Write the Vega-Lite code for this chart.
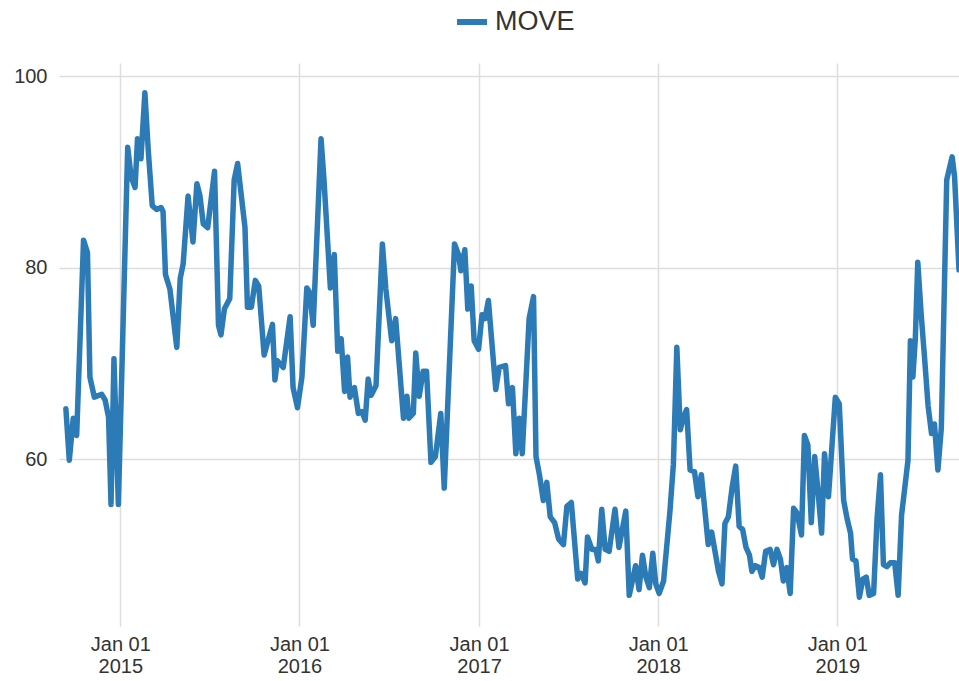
{
  "$schema": "https://vega.github.io/schema/vega-lite/v6.json",
  "autosize": {"type": "none"},
  "padding": {"left": 59, "top": 63, "right": 0, "bottom": 55},
  "width": 900,
  "height": 563,
  "background": "white",
  "config": {
    "view": {"stroke": null},
    "font": "Liberation Sans",
    "axis": {"labelFont": "Liberation Sans", "labelColor": "#333333", "labelFontSize": 20, "gridColor": "#dddddd", "gridWidth": 1.5, "domain": false, "ticks": false, "tickSize": 0}
  },
  "data": {"values": [
    {"date": "2014-09-12", "value": 65.3},
    {"date": "2014-09-19", "value": 59.9},
    {"date": "2014-09-27", "value": 64.3},
    {"date": "2014-10-04", "value": 62.5},
    {"date": "2014-10-18", "value": 82.9},
    {"date": "2014-10-26", "value": 81.6},
    {"date": "2014-10-31", "value": 68.6},
    {"date": "2014-11-09", "value": 66.5},
    {"date": "2014-11-24", "value": 66.8},
    {"date": "2014-12-01", "value": 66.2},
    {"date": "2014-12-08", "value": 64.4},
    {"date": "2014-12-13", "value": 55.3},
    {"date": "2014-12-19", "value": 70.5},
    {"date": "2014-12-28", "value": 55.3},
    {"date": "2015-01-16", "value": 92.6},
    {"date": "2015-01-23", "value": 89.5},
    {"date": "2015-01-31", "value": 88.4},
    {"date": "2015-02-05", "value": 93.5},
    {"date": "2015-02-12", "value": 91.4},
    {"date": "2015-02-20", "value": 98.3},
    {"date": "2015-02-27", "value": 92.2},
    {"date": "2015-03-07", "value": 86.5},
    {"date": "2015-03-16", "value": 86.1},
    {"date": "2015-03-25", "value": 86.3},
    {"date": "2015-03-29", "value": 85.9},
    {"date": "2015-04-03", "value": 79.3},
    {"date": "2015-04-12", "value": 77.8},
    {"date": "2015-04-26", "value": 71.7},
    {"date": "2015-05-03", "value": 78.9},
    {"date": "2015-05-09", "value": 80.4},
    {"date": "2015-05-19", "value": 87.5},
    {"date": "2015-05-29", "value": 82.7},
    {"date": "2015-06-06", "value": 88.8},
    {"date": "2015-06-12", "value": 87.6},
    {"date": "2015-06-19", "value": 84.6},
    {"date": "2015-06-28", "value": 84.2},
    {"date": "2015-07-12", "value": 90.1},
    {"date": "2015-07-20", "value": 74.0},
    {"date": "2015-07-25", "value": 73.0},
    {"date": "2015-08-01", "value": 75.7},
    {"date": "2015-08-12", "value": 76.8},
    {"date": "2015-08-21", "value": 89.2},
    {"date": "2015-08-28", "value": 90.9},
    {"date": "2015-09-12", "value": 84.2},
    {"date": "2015-09-17", "value": 75.9},
    {"date": "2015-09-25", "value": 75.9},
    {"date": "2015-10-03", "value": 78.7},
    {"date": "2015-10-10", "value": 78.1},
    {"date": "2015-10-21", "value": 70.9},
    {"date": "2015-11-07", "value": 74.1},
    {"date": "2015-11-12", "value": 68.3},
    {"date": "2015-11-17", "value": 70.3},
    {"date": "2015-11-29", "value": 69.6},
    {"date": "2015-12-13", "value": 74.9},
    {"date": "2015-12-19", "value": 67.5},
    {"date": "2015-12-28", "value": 65.4},
    {"date": "2016-01-06", "value": 68.6},
    {"date": "2016-01-16", "value": 77.9},
    {"date": "2016-01-22", "value": 77.4},
    {"date": "2016-01-29", "value": 74.0},
    {"date": "2016-02-14", "value": 93.5},
    {"date": "2016-02-20", "value": 89.2},
    {"date": "2016-03-04", "value": 77.9},
    {"date": "2016-03-12", "value": 81.4},
    {"date": "2016-03-19", "value": 71.3},
    {"date": "2016-03-26", "value": 72.6},
    {"date": "2016-04-02", "value": 67.1},
    {"date": "2016-04-08", "value": 70.7},
    {"date": "2016-04-13", "value": 66.5},
    {"date": "2016-04-22", "value": 67.5},
    {"date": "2016-04-30", "value": 64.8},
    {"date": "2016-05-07", "value": 65.0},
    {"date": "2016-05-14", "value": 64.1},
    {"date": "2016-05-20", "value": 68.4},
    {"date": "2016-05-26", "value": 66.7},
    {"date": "2016-06-05", "value": 67.7},
    {"date": "2016-06-18", "value": 82.5},
    {"date": "2016-06-25", "value": 77.8},
    {"date": "2016-07-07", "value": 72.4},
    {"date": "2016-07-15", "value": 74.7},
    {"date": "2016-07-31", "value": 64.3},
    {"date": "2016-08-07", "value": 66.6},
    {"date": "2016-08-11", "value": 64.3},
    {"date": "2016-08-20", "value": 64.8},
    {"date": "2016-08-25", "value": 71.1},
    {"date": "2016-09-01", "value": 66.6},
    {"date": "2016-09-09", "value": 69.2},
    {"date": "2016-09-16", "value": 69.2},
    {"date": "2016-09-25", "value": 59.7},
    {"date": "2016-10-04", "value": 60.3},
    {"date": "2016-10-15", "value": 64.8},
    {"date": "2016-10-22", "value": 57.0},
    {"date": "2016-11-12", "value": 82.5},
    {"date": "2016-11-20", "value": 81.4},
    {"date": "2016-11-25", "value": 79.7},
    {"date": "2016-12-03", "value": 81.9},
    {"date": "2016-12-09", "value": 75.7},
    {"date": "2016-12-16", "value": 78.1},
    {"date": "2016-12-22", "value": 72.4},
    {"date": "2016-12-31", "value": 71.5},
    {"date": "2017-01-07", "value": 75.1},
    {"date": "2017-01-13", "value": 74.7},
    {"date": "2017-01-20", "value": 76.6},
    {"date": "2017-02-04", "value": 67.3},
    {"date": "2017-02-11", "value": 69.6},
    {"date": "2017-02-24", "value": 69.8},
    {"date": "2017-03-02", "value": 65.8},
    {"date": "2017-03-10", "value": 67.5},
    {"date": "2017-03-17", "value": 60.6},
    {"date": "2017-03-24", "value": 64.3},
    {"date": "2017-03-30", "value": 60.6},
    {"date": "2017-04-13", "value": 74.7},
    {"date": "2017-04-22", "value": 77.0},
    {"date": "2017-04-27", "value": 60.3},
    {"date": "2017-05-04", "value": 58.4},
    {"date": "2017-05-12", "value": 55.7},
    {"date": "2017-05-19", "value": 57.6},
    {"date": "2017-05-26", "value": 54.0},
    {"date": "2017-06-04", "value": 53.4},
    {"date": "2017-06-12", "value": 51.7},
    {"date": "2017-06-22", "value": 51.1},
    {"date": "2017-06-29", "value": 55.1},
    {"date": "2017-07-08", "value": 55.5},
    {"date": "2017-07-21", "value": 47.5},
    {"date": "2017-07-28", "value": 48.1},
    {"date": "2017-08-05", "value": 47.1},
    {"date": "2017-08-10", "value": 51.9},
    {"date": "2017-08-19", "value": 50.6},
    {"date": "2017-08-27", "value": 50.6},
    {"date": "2017-09-01", "value": 49.4},
    {"date": "2017-09-08", "value": 54.8},
    {"date": "2017-09-15", "value": 50.6},
    {"date": "2017-09-23", "value": 50.4},
    {"date": "2017-10-05", "value": 54.8},
    {"date": "2017-10-13", "value": 50.8},
    {"date": "2017-10-27", "value": 54.6},
    {"date": "2017-11-03", "value": 45.8},
    {"date": "2017-11-16", "value": 48.9},
    {"date": "2017-11-23", "value": 46.4},
    {"date": "2017-11-30", "value": 50.0},
    {"date": "2017-12-07", "value": 47.7},
    {"date": "2017-12-14", "value": 46.6},
    {"date": "2017-12-21", "value": 50.2},
    {"date": "2017-12-27", "value": 47.0},
    {"date": "2018-01-03", "value": 46.0},
    {"date": "2018-01-12", "value": 47.3},
    {"date": "2018-01-25", "value": 54.6},
    {"date": "2018-02-01", "value": 59.5},
    {"date": "2018-02-08", "value": 71.7},
    {"date": "2018-02-15", "value": 63.1},
    {"date": "2018-02-21", "value": 64.3},
    {"date": "2018-02-28", "value": 65.2},
    {"date": "2018-03-07", "value": 58.9},
    {"date": "2018-03-16", "value": 58.7},
    {"date": "2018-03-23", "value": 56.1},
    {"date": "2018-03-30", "value": 58.4},
    {"date": "2018-04-13", "value": 51.1},
    {"date": "2018-04-20", "value": 52.4},
    {"date": "2018-05-04", "value": 48.3},
    {"date": "2018-05-11", "value": 47.0},
    {"date": "2018-05-17", "value": 53.3},
    {"date": "2018-05-24", "value": 54.0},
    {"date": "2018-06-01", "value": 57.2},
    {"date": "2018-06-08", "value": 59.3},
    {"date": "2018-06-15", "value": 53.0},
    {"date": "2018-06-22", "value": 52.7},
    {"date": "2018-06-29", "value": 50.8},
    {"date": "2018-07-06", "value": 50.0},
    {"date": "2018-07-11", "value": 48.3},
    {"date": "2018-07-18", "value": 48.9},
    {"date": "2018-07-26", "value": 48.7},
    {"date": "2018-08-01", "value": 47.7},
    {"date": "2018-08-08", "value": 50.4},
    {"date": "2018-08-17", "value": 50.6},
    {"date": "2018-08-24", "value": 49.0},
    {"date": "2018-08-31", "value": 50.6},
    {"date": "2018-09-07", "value": 49.6},
    {"date": "2018-09-13", "value": 47.3},
    {"date": "2018-09-20", "value": 48.7},
    {"date": "2018-09-27", "value": 46.0},
    {"date": "2018-10-04", "value": 54.9},
    {"date": "2018-10-11", "value": 54.4},
    {"date": "2018-10-20", "value": 52.1},
    {"date": "2018-10-26", "value": 62.5},
    {"date": "2018-11-02", "value": 61.5},
    {"date": "2018-11-09", "value": 53.4},
    {"date": "2018-11-16", "value": 60.3},
    {"date": "2018-11-23", "value": 56.5},
    {"date": "2018-11-30", "value": 52.3},
    {"date": "2018-12-06", "value": 60.6},
    {"date": "2018-12-14", "value": 56.1},
    {"date": "2018-12-28", "value": 66.5},
    {"date": "2019-01-05", "value": 65.8},
    {"date": "2019-01-14", "value": 55.7},
    {"date": "2019-01-21", "value": 53.8},
    {"date": "2019-01-28", "value": 52.3},
    {"date": "2019-02-01", "value": 49.6},
    {"date": "2019-02-08", "value": 49.4},
    {"date": "2019-02-15", "value": 45.6},
    {"date": "2019-02-22", "value": 47.5},
    {"date": "2019-03-01", "value": 47.7},
    {"date": "2019-03-07", "value": 45.8},
    {"date": "2019-03-16", "value": 46.0},
    {"date": "2019-03-23", "value": 53.8},
    {"date": "2019-03-30", "value": 58.4},
    {"date": "2019-04-05", "value": 49.0},
    {"date": "2019-04-12", "value": 48.8},
    {"date": "2019-04-19", "value": 49.2},
    {"date": "2019-04-28", "value": 49.2},
    {"date": "2019-05-05", "value": 45.8},
    {"date": "2019-05-12", "value": 54.2},
    {"date": "2019-05-18", "value": 56.8},
    {"date": "2019-05-25", "value": 59.9},
    {"date": "2019-05-30", "value": 72.4},
    {"date": "2019-06-04", "value": 68.6},
    {"date": "2019-06-09", "value": 72.6},
    {"date": "2019-06-14", "value": 80.6},
    {"date": "2019-06-21", "value": 75.1},
    {"date": "2019-06-28", "value": 70.5},
    {"date": "2019-07-05", "value": 65.6},
    {"date": "2019-07-12", "value": 62.7},
    {"date": "2019-07-18", "value": 63.7},
    {"date": "2019-07-25", "value": 58.9},
    {"date": "2019-08-01", "value": 63.3},
    {"date": "2019-08-12", "value": 89.2},
    {"date": "2019-08-23", "value": 91.6},
    {"date": "2019-08-28", "value": 89.5},
    {"date": "2019-09-06", "value": 79.8}
  ]},
  "mark": {"type": "line", "strokeWidth": 5.5, "strokeJoin": "round", "strokeCap": "round", "clip": true},
  "encoding": {
    "x": {
      "field": "date",
      "type": "temporal",
      "scale": {"type": "utc", "domain": [{"year": 2014, "month": 8, "date": 29, "utc": true}, {"year": 2019, "month": 9, "date": 6, "utc": true}]},
      "axis": {
        "title": null,
        "grid": true,
        "values": [
          {"year": 2015, "month": 1, "date": 1, "utc": true},
          {"year": 2016, "month": 1, "date": 1, "utc": true},
          {"year": 2017, "month": 1, "date": 1, "utc": true},
          {"year": 2018, "month": 1, "date": 1, "utc": true},
          {"year": 2019, "month": 1, "date": 1, "utc": true}
        ],
        "labelExpr": "[utcFormat(datum.value, '%b %d'), utcFormat(datum.value, '%Y')]",
        "labelPadding": 8,
        "labelLineHeight": 22,
        "labelFlush": false,
        "labelOverlap": false
      }
    },
    "y": {
      "field": "value",
      "type": "quantitative",
      "scale": {"domain": [42.6, 101.4], "zero": false, "nice": false},
      "axis": {"title": null, "values": [60, 80, 100], "labelPadding": 12, "grid": true}
    },
    "color": {
      "datum": "MOVE",
      "type": "nominal",
      "scale": {"range": ["#2d7bb6"]},
      "legend": {
        "title": null,
        "orient": "none",
        "legendX": 395,
        "legendY": -59,
        "symbolType": "stroke",
        "symbolStrokeWidth": 6,
        "symbolSize": 900,
        "labelFontSize": 27,
        "labelFont": "Liberation Sans",
        "labelColor": "#333333",
        "labelOffset": 5
      }
    }
  }
}
